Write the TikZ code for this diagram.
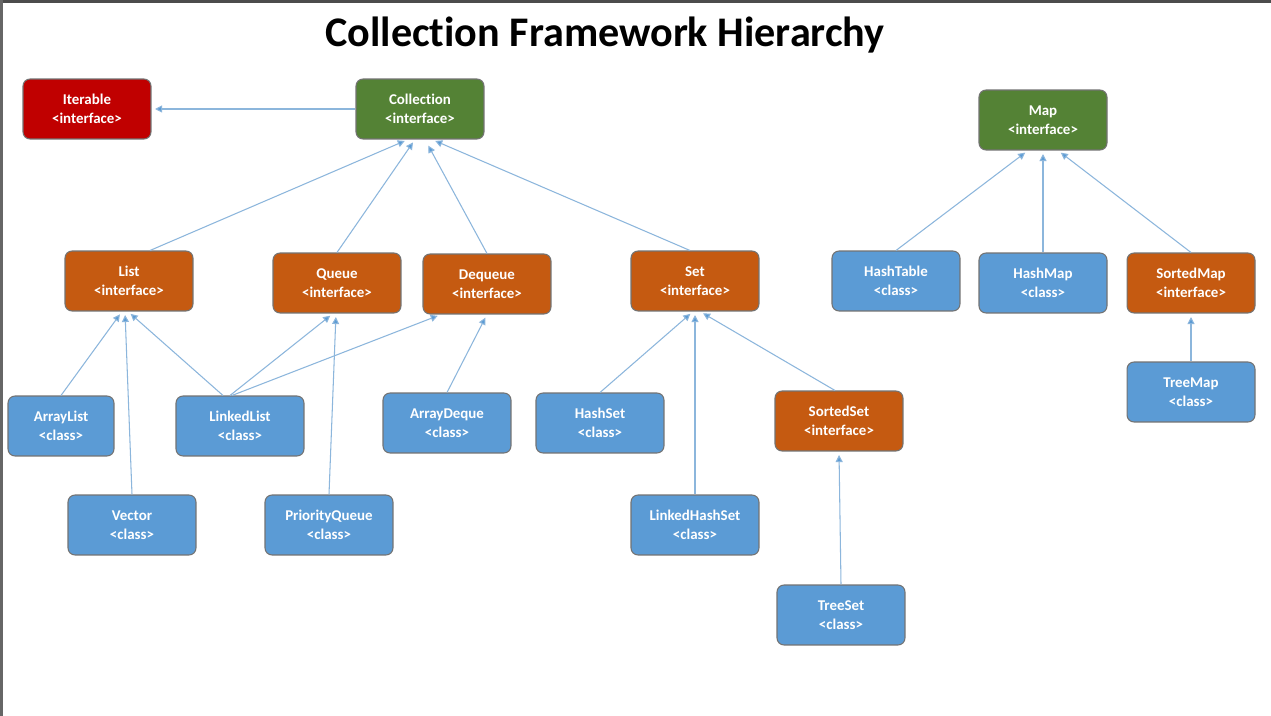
\documentclass[tikz,border=0pt]{standalone}
\usepackage{fontspec}
\setmainfont[Ligatures=NoCommon]{Carlito}
\usetikzlibrary{arrows.meta,calc}

\definecolor{iterred}{RGB}{192,0,0}
\definecolor{topgreen}{RGB}{84,130,53}
\definecolor{ifaceorange}{RGB}{197,90,17}
\definecolor{classblue}{RGB}{91,155,213}
\definecolor{linkblue}{RGB}{140,182,220}

\tikzset{
  box/.style={draw=black!55, line width=0.6pt, rounded corners=4pt, text=white,
    minimum width=2.56cm, minimum height=1.2cm, align=center,
    font=\bfseries\fontsize{8.5}{11}\selectfont},
  rootbox/.style={box, fill=topgreen},
  ifacebox/.style={box, fill=ifaceorange},
  classbox/.style={box, fill=classblue},
  inh/.style={draw=linkblue, line width=0.6pt, shorten >=2pt,
    -{Triangle[length=4pt,width=4pt,fill=classblue]}}
}

\begin{document}
\begin{tikzpicture}[x=0.02cm, y=-0.02cm]
    % Page and frame
    \useasboundingbox (0,0) rectangle (1271,716);
    \fill[white] (0,0) rectangle (1271,716);
    \fill[black!70] (0,0) rectangle (1271,3);
    \fill[black!60] (0,0) rectangle (3,716);

    % Title
    \node[font=\bfseries\fontsize{24}{28}\selectfont] (title) at (605,35) {Collection Framework Hierarchy};

    % Top level
    \node[box, fill=iterred] (iter) at (87,109) {Iterable\\<interface>};
    \node[rootbox] (coll) at (420,109) {Collection\\<interface>};
    \node[rootbox] (map) at (1043,120) {Map\\<interface>};

    % Second level
    \node[ifacebox] (list) at (129,281) {List\\<interface>};
    \node[ifacebox] (queue) at (337,283) {Queue\\<interface>};
    \node[ifacebox] (deq) at (487,284) {Dequeue\\<interface>};
    \node[ifacebox] (set) at (695,281) {Set\\<interface>};
    \node[classbox] (htab) at (896,281) {HashTable\\<class>};
    \node[classbox] (hmap) at (1043,283) {HashMap\\<class>};
    \node[ifacebox] (smap) at (1191,283) {SortedMap\\<interface>};

    % Implementations
    \node[classbox, minimum width=2.12cm] (alist) at (61,426) {ArrayList\\<class>};
    \node[classbox] (llist) at (240,426) {LinkedList\\<class>};
    \node[classbox] (adeq) at (447,423) {ArrayDeque\\<class>};
    \node[classbox] (hset) at (600,423) {HashSet\\<class>};
    \node[ifacebox] (sset) at (839,421) {SortedSet\\<interface>};
    \node[classbox] (tmap) at (1191,392) {TreeMap\\<class>};
    \node[classbox] (vector) at (132,525) {Vector\\<class>};
    \node[classbox] (pq) at (329,525) {PriorityQueue\\<class>};
    \node[classbox] (lhset) at (695,525) {LinkedHashSet\\<class>};
    \node[classbox] (tset) at (841,615) {TreeSet\\<class>};

    % Inheritance links (arrow points to the parent)
    \draw[inh] (coll.west) -- (iter.east);
    \draw[inh] ($(list.north)+(21,0)$) -- ($(coll.south)+(-12,0)$);
    \draw[inh] (queue.north) -- ($(coll.south)+(-5,0)$);
    \draw[inh, shorten >=4pt] (deq.north) -- ($(coll.south)+(5,0)$);
    \draw[inh] ($(set.north)+(-5,0)$) -- ($(coll.south)+(12,0)$);

    \draw[inh] (alist.north) -- ($(list.south)+(-7,0)$);
    \draw[inh] (vector.north) -- ($(list.south)+(-4,0)$);
    \draw[inh] ($(llist.north)+(-17,0)$) -- ($(list.south)+(-1,0)$);
    \draw[inh] ($(llist.north)+(-10,0)$) -- ($(queue.south)+(-4,0)$);
    \draw[inh] ($(llist.north)+(-8,0)$) -- ($(deq.south)+(-46,0)$);
    \draw[inh] (pq.north) -- ($(queue.south)+(-1,0)$);
    \draw[inh] (adeq.north) -- (deq.south);

    \draw[inh] (hset.north) -- ($(set.south)+(-2,0)$);
    \draw[inh] (lhset.north) -- (set.south);
    \draw[inh] ($(sset.north)+(-4,0)$) -- ($(set.south)+(5,0)$);
    \draw[inh] (tset.north) -- (sset.south);

    \draw[inh] (htab.north) -- ($(map.south)+(-15,0)$);
    \draw[inh] (hmap.north) -- (map.south);
    \draw[inh] (smap.north) -- ($(map.south)+(15,0)$);
    \draw[inh] (tmap.north) -- (smap.south);
\end{tikzpicture}
\end{document}
